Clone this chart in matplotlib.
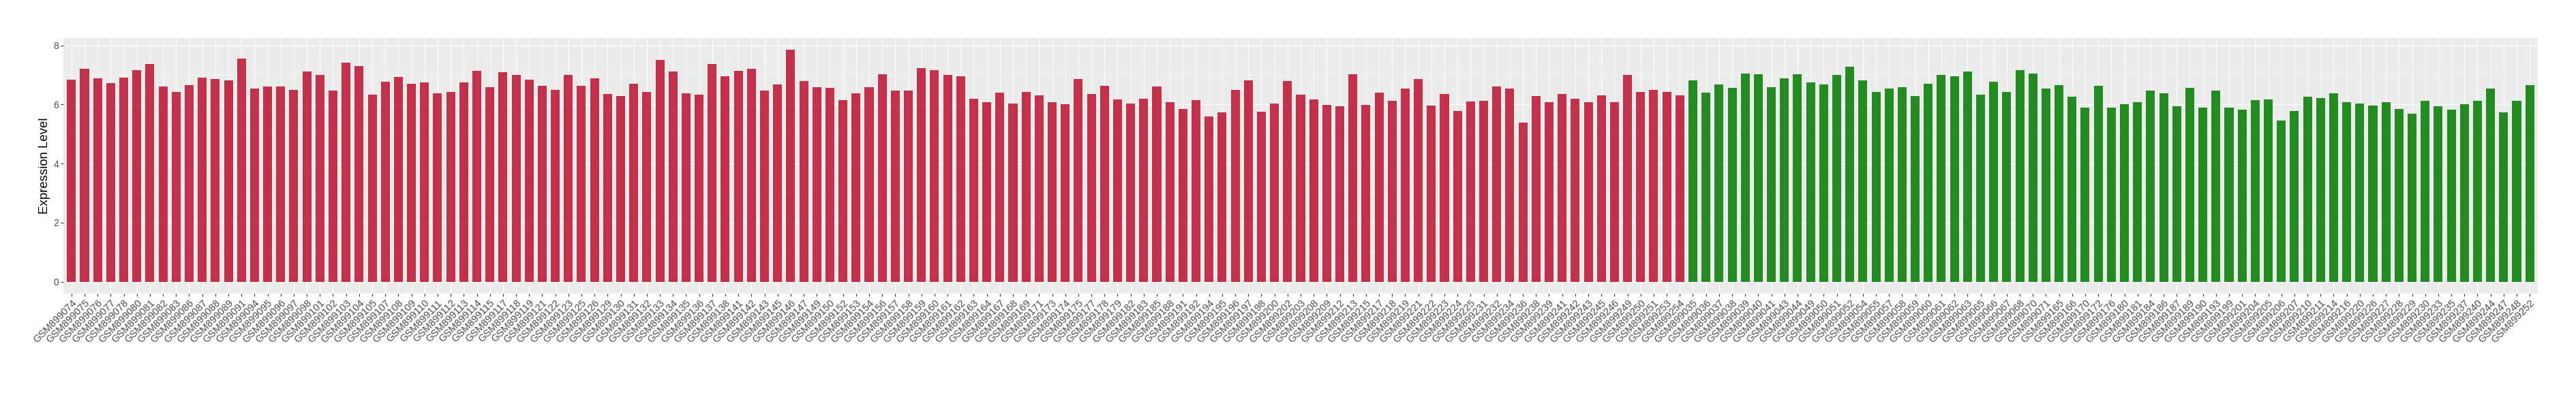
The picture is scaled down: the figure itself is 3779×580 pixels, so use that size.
import matplotlib
matplotlib.use("Agg")
import matplotlib.pyplot as plt
from matplotlib.ticker import MultipleLocator

# Amostras do grupo 1 (vermelho) e grupo 2 (verde)
amostras_1 = ["074", "075", "076", "077", "078", "080", "081", "082", "083", "086", "087", "088",
              "089", "091", "094", "095", "096", "097", "098", "101", "102", "103", "104", "105",
              "107", "108", "109", "110", "111", "112", "113", "114", "115", "117", "118", "119",
              "121", "122", "123", "125", "126", "129", "130", "131", "132", "133", "134", "135",
              "136", "137", "138", "141", "142", "143", "145", "146", "147", "149", "150", "152",
              "153", "154", "156", "157", "158", "159", "160", "161", "162", "163", "164", "167",
              "168", "169", "171", "173", "174", "175", "177", "178", "179", "182", "183", "185",
              "188", "191", "192", "194", "195", "196", "197", "198", "200", "202", "203", "208",
              "209", "212", "213", "215", "217", "218", "219", "221", "222", "223", "224", "225",
              "231", "232", "234", "236", "238", "239", "241", "242", "243", "245", "246", "249",
              "250", "251", "253", "254"]
valores_1 = [6.83, 7.20, 6.89, 6.72, 6.92, 7.16, 7.38, 6.61, 6.43, 6.66, 6.92, 6.87,
             6.81, 7.55, 6.53, 6.61, 6.61, 6.50, 7.12, 6.99, 6.46, 7.42, 7.31, 6.33, 6.76, 6.94, 6.70, 6.74,
             6.37, 6.43, 6.74, 7.14, 6.59, 7.09, 6.99, 6.83, 6.63, 6.50, 7.01, 6.63, 6.89, 6.35, 6.28, 6.70,
             6.42, 7.51, 7.12, 6.37, 6.33, 7.36, 6.96, 7.14, 7.20, 6.46, 6.68, 7.86, 6.79, 6.59, 6.57, 6.15,
             6.37, 6.59, 7.03, 6.46, 6.46, 7.22, 7.16, 7.01, 6.96, 6.20, 6.09, 6.40, 6.04, 6.43, 6.30, 6.07,
             6.02, 6.86, 6.35, 6.63, 6.17, 6.04, 6.20, 6.61, 6.07, 5.84, 6.15, 5.60, 5.74, 6.50, 6.81, 5.76,
             6.04, 6.79, 6.33, 6.17, 5.98, 5.93, 7.03, 5.98, 6.40, 6.13, 6.55, 6.86, 5.96, 6.35, 5.78, 6.11,
             6.13, 6.61, 6.53, 5.39, 6.28, 6.09, 6.35, 6.20, 6.07, 6.30, 6.09, 7.01, 6.42, 6.50, 6.42, 6.30]

amostras_2 = ["035", "036", "037", "038", "039", "040", "041", "043", "044", "049", "050", "051",
              "052", "054", "055", "057", "058", "059", "060", "061", "062", "063", "065", "066",
              "067", "068", "070", "071", "165", "166", "170", "172", "176", "180", "181", "184",
              "186", "187", "189", "190", "193", "199", "201", "204", "205", "206", "207", "210",
              "211", "214", "216", "220", "226", "227", "228", "229", "230", "233", "235", "237",
              "240", "244", "247", "248", "252"]
valores_2 = [6.81, 6.40, 6.68, 6.57, 7.05, 7.03, 6.59, 6.89, 7.03, 6.74, 6.68, 7.01, 7.27, 6.81, 6.42, 6.55,
             6.59, 6.28, 6.70, 6.99, 6.96, 7.12, 6.33, 6.76, 6.43, 7.16, 7.05, 6.53, 6.66, 6.26, 5.89, 6.63,
             5.89, 6.02, 6.07, 6.48, 6.37, 5.93, 6.57, 5.89, 6.46, 5.89, 5.83, 6.15, 6.17, 5.45, 5.78, 6.26,
             6.22, 6.37, 6.07, 6.04, 5.96, 6.07, 5.84, 5.69, 6.13, 5.93, 5.83, 6.00, 6.13, 6.53, 5.74, 6.13, 6.66]

cor_1 = "#C23149"
cor_2 = "#228B22"

rotulos = ["GSM899" + a for a in amostras_1 + amostras_2]
valores = valores_1 + valores_2
cores = [cor_1] * len(valores_1) + [cor_2] * len(valores_2)
x = list(range(len(valores)))

plt.rcParams["font.family"] = ["Liberation Sans", "DejaVu Sans"]

fig = plt.figure(figsize=(37.8, 5.8), dpi=100)
ax = fig.add_axes([0.02469, 0.2574, 0.98484 - 0.02469, 0.9040 - 0.2574])

ax.set_facecolor("#EBEBEB")
ax.bar(x, valores, width=0.68, color=cores, zorder=3)

# limites no estilo ggplot
topo = max(valores)
ax.set_xlim(-0.6, len(valores) - 0.4)
ax.set_ylim(-0.05 * topo, topo * 1.05)

ax.yaxis.set_major_locator(MultipleLocator(2))
ax.yaxis.set_minor_locator(MultipleLocator(1))
ax.grid(which="major", color="white", linewidth=0.8, zorder=0)
ax.grid(which="minor", axis="y", color="white", linewidth=0.4, zorder=0)
ax.set_axisbelow(True)

ax.set_xticks(x)
ax.set_xticklabels(rotulos, rotation=45, ha="right", va="top", rotation_mode="anchor",
                   fontsize=10.6, color="#4D4D4D")
ax.tick_params(axis="y", labelsize=10, labelcolor="#4D4D4D")
ax.tick_params(which="major", length=3, width=0.8, color="#333333", pad=2)
ax.tick_params(which="minor", length=0)

for lado in ax.spines.values():
    lado.set_visible(False)

ax.set_ylabel("Expression Level", fontsize=13.4, labelpad=3)

fig.savefig("out.png", dpi=100)
